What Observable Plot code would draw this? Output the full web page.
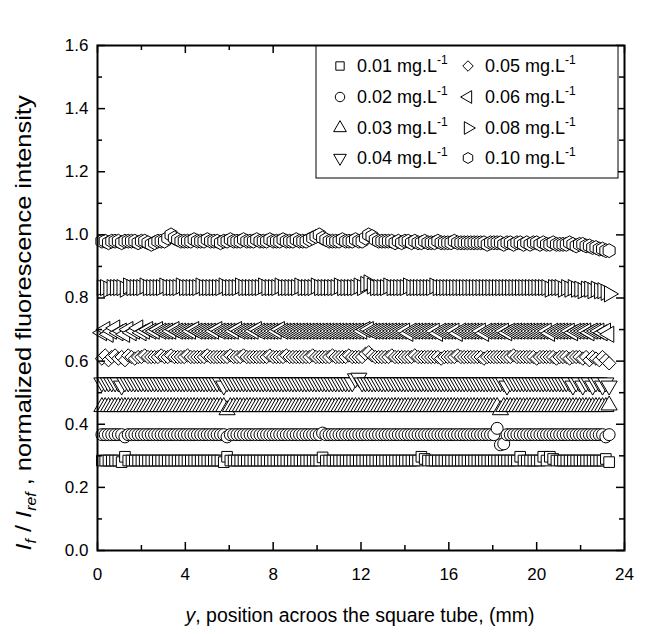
<!DOCTYPE html>
<html><head><meta charset="utf-8">
<script src="https://cdn.jsdelivr.net/npm/d3@7"></script>
<script src="https://cdn.jsdelivr.net/npm/@observablehq/plot@0.6"></script>
<style>
html,body{margin:0;padding:0;background:#fff;}
#chart svg{display:block;}
</style></head><body><div id="chart"></div>
<script>
// position across the tube (mm)
const positions = [
0.2,0.35,0.5,0.65,0.8,0.95,1.1,1.25,1.4,1.55,
1.7,1.85,2,2.15,2.3,2.45,2.6,2.75,2.9,3.05,
3.2,3.35,3.5,3.65,3.8,3.95,4.1,4.25,4.4,4.55,
4.7,4.85,5,5.15,5.3,5.45,5.6,5.75,5.9,6.05,
6.2,6.35,6.5,6.65,6.8,6.95,7.1,7.25,7.4,7.55,
7.7,7.85,8,8.15,8.3,8.45,8.6,8.75,8.9,9.05,
9.2,9.35,9.5,9.65,9.8,9.95,10.1,10.25,10.4,10.55,
10.7,10.85,11,11.15,11.3,11.45,11.6,11.75,11.9,12.05,
12.2,12.35,12.5,12.65,12.8,12.95,13.1,13.25,13.4,13.55,
13.7,13.85,14,14.15,14.3,14.45,14.6,14.75,14.9,15.05,
15.2,15.35,15.5,15.65,15.8,15.95,16.1,16.25,16.4,16.55,
16.7,16.85,17,17.15,17.3,17.45,17.6,17.75,17.9,18.05,
18.2,18.35,18.5,18.65,18.8,18.95,19.1,19.25,19.4,19.55,
19.7,19.85,20,20.15,20.3,20.45,20.6,20.75,20.9,21.05,
21.2,21.35,21.5,21.65,21.8,21.95,22.1,22.25,22.4,22.55,
22.7,22.85,23,23.15,23.3];

const c001 = [
.285,.285,.285,.285,.285,.285,.28,.297,.285,.285,
.285,.285,.285,.285,.285,.285,.285,.285,.285,.285,
.285,.285,.285,.285,.285,.285,.285,.285,.285,.285,
.285,.285,.285,.285,.285,.285,.285,.28,.297,.285,
.285,.285,.285,.285,.285,.285,.285,.285,.285,.285,
.285,.285,.285,.285,.285,.285,.285,.285,.285,.285,
.285,.285,.285,.285,.285,.285,.285,.295,.285,.285,
.285,.285,.285,.285,.285,.285,.285,.285,.285,.285,
.285,.285,.285,.285,.285,.285,.285,.285,.285,.285,
.285,.285,.285,.285,.285,.285,.285,.297,.29,.285,
.285,.285,.285,.285,.285,.285,.285,.285,.285,.285,
.285,.285,.285,.285,.285,.285,.285,.285,.285,.285,
.285,.285,.285,.285,.285,.285,.285,.297,.285,.285,
.285,.285,.285,.285,.297,.285,.297,.29,.285,.285,
.285,.285,.285,.285,.285,.285,.285,.285,.285,.285,
.285,.285,.285,.29,.28];

const c002 = [
.367,.367,.367,.367,.367,.367,.367,.36,.367,.367,
.367,.367,.367,.367,.367,.367,.367,.367,.367,.367,
.367,.367,.367,.367,.367,.367,.367,.367,.367,.367,
.367,.367,.367,.367,.367,.367,.367,.367,.36,.367,
.367,.367,.367,.367,.367,.367,.367,.367,.367,.367,
.367,.367,.367,.367,.367,.367,.367,.367,.367,.367,
.367,.367,.367,.367,.367,.367,.367,.372,.367,.367,
.367,.367,.367,.367,.367,.367,.367,.367,.367,.367,
.367,.367,.367,.367,.367,.367,.367,.367,.367,.367,
.367,.367,.367,.367,.367,.367,.367,.367,.367,.367,
.367,.367,.367,.367,.367,.367,.367,.367,.367,.367,
.367,.367,.367,.367,.367,.367,.367,.367,.367,.367,
.387,.335,.338,.367,.367,.367,.367,.367,.367,.367,
.367,.367,.367,.367,.367,.367,.367,.367,.367,.367,
.367,.367,.367,.367,.367,.367,.367,.367,.367,.367,
.367,.367,.367,.36,.367];

const c003 = [
.455,.455,.455,.455,.455,.455,.455,.455,.455,.455,
.455,.455,.455,.455,.455,.455,.455,.455,.455,.455,
.455,.455,.455,.455,.455,.455,.455,.455,.455,.455,
.455,.455,.455,.455,.455,.455,.455,.455,.445,.455,
.455,.455,.455,.455,.455,.455,.455,.455,.455,.455,
.455,.455,.455,.455,.455,.455,.455,.455,.455,.455,
.455,.455,.455,.455,.455,.455,.455,.455,.455,.455,
.455,.455,.455,.455,.455,.455,.455,.455,.455,.455,
.455,.455,.455,.455,.455,.455,.455,.455,.455,.455,
.455,.455,.455,.455,.455,.455,.455,.455,.455,.455,
.455,.455,.455,.455,.455,.455,.455,.455,.455,.455,
.455,.455,.455,.455,.455,.455,.455,.455,.455,.455,
.455,.445,.455,.455,.455,.455,.455,.455,.455,.455,
.455,.455,.455,.455,.455,.455,.455,.455,.455,.455,
.455,.455,.455,.455,.455,.455,.455,.455,.455,.455,
.455,.455,.455,.455,.46];

const c004 = [
.532,.532,.532,.532,.532,.532,.522,.532,.532,.532,
.532,.532,.532,.532,.532,.532,.532,.532,.532,.532,
.532,.532,.532,.532,.532,.532,.532,.532,.532,.532,
.532,.532,.532,.532,.532,.532,.532,.522,.532,.532,
.532,.532,.532,.532,.532,.532,.532,.532,.532,.532,
.532,.532,.532,.532,.532,.532,.532,.532,.532,.532,
.532,.532,.532,.532,.532,.532,.532,.532,.532,.532,
.532,.532,.532,.532,.532,.532,.532,.545,.547,.532,
.532,.532,.532,.532,.532,.532,.532,.532,.532,.532,
.532,.532,.532,.532,.532,.532,.532,.532,.532,.532,
.532,.532,.532,.532,.532,.532,.532,.532,.532,.532,
.532,.532,.532,.532,.532,.532,.532,.532,.532,.532,
.532,.532,.532,.522,.532,.532,.532,.532,.532,.532,
.532,.532,.532,.532,.532,.532,.532,.532,.532,.532,
.532,.532,.532,.522,.532,.532,.522,.532,.532,.522,
.532,.532,.522,.532,.522];

const c005 = [
.608,.618,.603,.613,.618,.608,.613,.603,.618,.613,
.608,.613,.613,.618,.613,.613,.613,.613,.618,.613,
.613,.618,.613,.613,.613,.613,.618,.613,.613,.613,
.613,.613,.618,.613,.613,.613,.613,.613,.613,.618,
.613,.613,.613,.618,.613,.613,.613,.613,.613,.613,
.613,.618,.613,.613,.613,.613,.618,.613,.613,.613,
.613,.613,.613,.613,.618,.613,.613,.613,.613,.613,
.618,.613,.613,.613,.613,.618,.613,.613,.613,.613,
.623,.628,.618,.613,.613,.613,.613,.613,.618,.613,
.613,.613,.613,.613,.613,.618,.613,.613,.613,.613,
.613,.613,.613,.608,.613,.613,.613,.613,.618,.613,
.613,.613,.613,.613,.613,.613,.608,.613,.613,.613,
.613,.613,.613,.613,.613,.618,.613,.613,.613,.613,
.613,.613,.608,.613,.613,.613,.613,.613,.608,.613,
.613,.613,.608,.613,.613,.613,.608,.613,.603,.613,
.608,.603,.613,.603,.593];

const c006 = [
.69,.70,.685,.695,.705,.69,.695,.685,.70,.69,
.695,.705,.69,.695,.70,.695,.695,.70,.695,.695,
.695,.695,.70,.695,.695,.695,.695,.695,.70,.695,
.695,.695,.695,.695,.695,.70,.695,.695,.695,.695,
.695,.70,.695,.695,.695,.695,.695,.70,.695,.695,
.695,.695,.695,.695,.70,.695,.695,.695,.695,.695,
.695,.695,.695,.695,.695,.695,.695,.695,.695,.695,
.695,.695,.695,.695,.695,.695,.695,.695,.695,.695,
.70,.70,.695,.695,.695,.695,.695,.695,.695,.695,
.695,.695,.695,.688,.695,.695,.695,.695,.695,.695,
.695,.695,.688,.695,.695,.695,.695,.695,.688,.695,
.695,.695,.695,.695,.695,.695,.688,.695,.695,.695,
.695,.695,.695,.69,.695,.695,.695,.695,.695,.695,
.695,.695,.695,.695,.695,.695,.688,.695,.695,.695,
.695,.695,.695,.69,.695,.695,.695,.695,.69,.695,
.695,.695,.69,.695,.685];

const c008 = [
.833,.833,.828,.833,.833,.833,.833,.828,.838,.833,
.833,.833,.833,.838,.833,.833,.833,.833,.833,.838,
.833,.833,.833,.833,.838,.833,.833,.833,.833,.833,
.838,.833,.833,.833,.833,.833,.833,.838,.833,.833,
.833,.833,.838,.833,.833,.833,.833,.833,.833,.838,
.833,.833,.833,.833,.838,.833,.833,.833,.833,.833,
.838,.833,.833,.833,.833,.838,.833,.833,.833,.833,
.833,.833,.838,.833,.833,.833,.833,.833,.838,.833,
.843,.848,.838,.833,.833,.833,.833,.838,.833,.833,
.833,.833,.833,.838,.833,.833,.833,.833,.833,.833,
.833,.838,.833,.833,.833,.833,.833,.833,.833,.833,
.833,.833,.833,.833,.833,.833,.833,.833,.833,.833,
.833,.833,.833,.833,.833,.833,.833,.833,.833,.833,
.833,.833,.833,.833,.833,.833,.828,.833,.833,.833,
.828,.833,.828,.833,.828,.828,.823,.828,.828,.823,
.828,.823,.823,.818,.813];

const c010 = [
.98,.98,.975,.98,.98,.98,.975,.98,.98,.98,
.98,.975,.98,.98,.975,.97,.975,.98,.98,.98,
.99,1.0,.99,.985,.98,.98,.98,.98,.985,.98,
.98,.98,.985,.98,.98,.98,.975,.98,.98,.985,
.98,.98,.98,.985,.98,.98,.98,.985,.98,.98,
.98,.985,.98,.98,.98,.985,.98,.98,.98,.985,
.98,.98,.98,.985,.99,.995,1.0,.99,.985,.98,
.98,.98,.98,.985,.98,.98,.98,.985,.98,.98,
.99,1.0,.995,.985,.98,.98,.98,.98,.98,.975,
.98,.975,.98,.98,.975,.98,.975,.975,.98,.975,
.975,.975,.98,.975,.975,.975,.975,.98,.975,.975,
.975,.975,.975,.975,.975,.975,.975,.97,.975,.975,
.975,.975,.97,.975,.975,.97,.975,.975,.97,.975,
.97,.975,.975,.97,.975,.97,.97,.975,.97,.97,
.97,.97,.975,.97,.965,.97,.97,.965,.965,.96,
.96,.955,.955,.95,.95];

const seriesNames = ["0.01 mg.L","0.02 mg.L","0.03 mg.L","0.04 mg.L","0.05 mg.L","0.06 mg.L","0.08 mg.L","0.10 mg.L"];
const xTicksMajor = [0,4,8,12,16,20,24];
const xTicksMinor = [2,6,10,14,18,22];
const yTicksMajor = [0,0.2,0.4,0.6,0.8,1.0,1.2,1.4,1.6];
const yTicksMinor = [0.1,0.3,0.5,0.7,0.9,1.1,1.3,1.5];

const seriesValues = [c001,c002,c003,c004,c005,c006,c008,c010];
const symbols = ["square","circle","triangle","triangle","diamond2","triangle","triangle","hexagon"];
const rotations = [0,0,0,180,0,-90,90,0];

const W = 652, H = 634, mL = 97, mR = 28, mT = 45, mB = 84;
const innerW = W - mL - mR, innerH = H - mT - mB;
const FONT = '"Liberation Sans", Arial, Helvetica, sans-serif';

const dotMarks = seriesValues.map((vals, k) =>
  Plot.dot(vals.map((v, i) => ({x: positions[i], y: v})), {
    x: "x", y: "y", symbol: symbols[k], rotate: rotations[k], r: 6,
    fill: "white", stroke: "black", strokeWidth: 1
  })
);

const svg = Plot.plot({
  width: W, height: H,
  marginLeft: mL, marginRight: mR, marginTop: mT, marginBottom: mB,
  style: {fontFamily: FONT, fontSize: "17px", background: "white", color: "black"},
  x: {domain: [0, 24]},
  y: {domain: [0, 1.6]},
  marks: [
    ...dotMarks,
    Plot.tickX(xTicksMajor, {x: d => d, insetTop: innerH - 8, strokeWidth: 1.5}),
    Plot.tickX(xTicksMajor, {x: d => d, insetBottom: innerH - 8, strokeWidth: 1.5}),
    Plot.tickX(xTicksMinor, {x: d => d, insetTop: innerH - 5, strokeWidth: 1.5}),
    Plot.tickX(xTicksMinor, {x: d => d, insetBottom: innerH - 5, strokeWidth: 1.5}),
    Plot.tickY(yTicksMajor, {y: d => d, insetRight: innerW - 8, strokeWidth: 1.5}),
    Plot.tickY(yTicksMajor, {y: d => d, insetLeft: innerW - 8, strokeWidth: 1.5}),
    Plot.tickY(yTicksMinor, {y: d => d, insetRight: innerW - 5, strokeWidth: 1.5}),
    Plot.tickY(yTicksMinor, {y: d => d, insetLeft: innerW - 5, strokeWidth: 1.5}),
    Plot.axisX({ticks: xTicksMajor, tickSize: 0, tickPadding: 17, label: null, tickFormat: d => String(d), fontSize: 17}),
    Plot.axisY({ticks: yTicksMajor, tickSize: 0, tickPadding: 9, label: null, tickFormat: d3.format(".1f"), fontSize: 17}),
    Plot.frame({stroke: "black", strokeWidth: 2})
  ]
});

const s = d3.select(svg);

// X axis title
const xt = s.append("text").attr("x", 360).attr("y", 622).attr("text-anchor", "middle")
  .attr("font-family", FONT).attr("font-size", 19.5).attr("fill", "black");
xt.append("tspan").attr("font-style", "italic").text("y");
xt.append("tspan").text(", position acroos the square tube, (mm)");

// Y axis title
const yt = s.append("text").attr("transform", "translate(31,323) rotate(-90) scale(1.13,1)").attr("text-anchor", "middle")
  .attr("font-family", FONT).attr("font-size", 22.5).attr("fill", "black");
yt.append("tspan").attr("font-style", "italic").text("I");
yt.append("tspan").attr("font-style", "italic").attr("font-size", 14).attr("dy", 5).text("f");
yt.append("tspan").attr("dy", -5).text(" / ");
yt.append("tspan").attr("font-style", "italic").text("I");
yt.append("tspan").attr("font-style", "italic").attr("font-size", 14).attr("dy", 5).text("ref");
yt.append("tspan").attr("dy", -5).text(" , normalized fluorescence intensity");

// Legend
const lg = s.append("g");
lg.append("rect").attr("x", 316).attr("y", 46).attr("width", 302).attr("height", 132)
  .attr("fill", "white").attr("stroke", "black").attr("stroke-width", 1);
const plotSymbols = {
  square: d3.symbolSquare, circle: d3.symbolCircle, triangle: d3.symbolTriangle, diamond2: d3.symbolDiamond2,
  hexagon: {draw(ctx, size) {
    const rx = Math.sqrt(size / Math.PI), ry = rx * Math.sqrt(4 / 3), hy = ry / 2;
    ctx.moveTo(0, ry); ctx.lineTo(rx, hy); ctx.lineTo(rx, -hy); ctx.lineTo(0, -ry);
    ctx.lineTo(-rx, -hy); ctx.lineTo(-rx, hy); ctx.closePath();
  }}
};
const rowY = [66, 97, 128, 158];
seriesNames.forEach((name, k) => {
  const col = Math.floor(k / 4), row = k % 4;
  const sx = col === 0 ? 340 : 468, tx = col === 0 ? 357 : 485, cy = rowY[row];
  lg.append("path").attr("d", d3.symbol(plotSymbols[symbols[k]], 70)())
    .attr("transform", `translate(${sx},${cy}) rotate(${rotations[k]})`)
    .attr("fill", "white").attr("stroke", "black").attr("stroke-width", 1);
  const t = lg.append("text").attr("x", tx).attr("y", cy + 6).attr("text-anchor", "start")
    .attr("font-family", FONT).attr("font-size", 18).attr("fill", "black");
  t.append("tspan").text(name);
  t.append("tspan").attr("font-size", 12).attr("dy", -8).text("-1");
});

document.getElementById("chart").appendChild(svg);
</script>
</body></html>
